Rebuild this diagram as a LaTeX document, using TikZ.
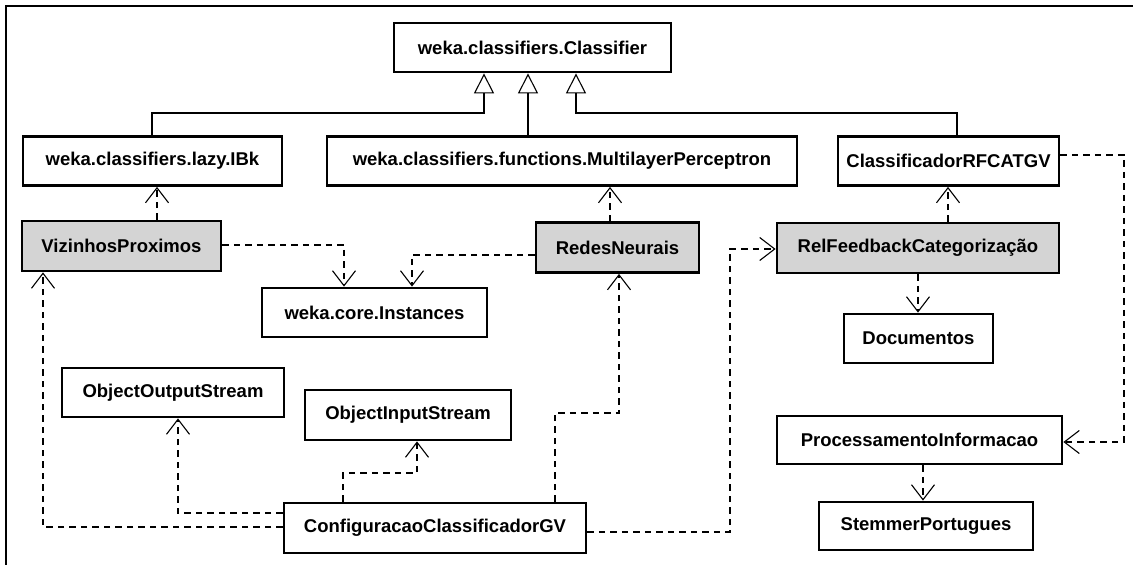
\documentclass[tikz,border=0pt]{standalone}
\usepackage{fontspec}
\setmainfont{Liberation Sans}
\usetikzlibrary{arrows.meta}
\definecolor{boxgray}{HTML}{D4D4D4}
\begin{document}
\begin{tikzpicture}[x=1pt,y=-1pt,
  umlbox/.style={draw=black, line width=2.8pt, fill=white, inner sep=0pt,
    font=\fontsize{18.5}{20}\selectfont\bfseries},
  shadedbox/.style={umlbox, fill=boxgray},
  dep/.style={line width=1.1pt, dash pattern=on 6.5pt off 5pt,
    -{Straight Barb[length=15pt,width=23pt,line width=1.1pt]}},
  gen/.style={line width=1.1pt,
    -{Triangle[open,length=20pt,width=20pt,fill=white,line width=1.1pt]}}
]
\useasboundingbox (0,0) rectangle (1133,565);
\fill[white] (0,0) rectangle (1133,565);
\draw[line width=2.5pt] (6,565) -- (6,6) -- (1133,6);

% nodes
\node[umlbox, minimum width=277pt, minimum height=49pt] (cls) at (532.5,47.5) {weka.classifiers.Classifier};
\node[umlbox, minimum width=259pt, minimum height=49pt] (ibk) at (152.5,161) {weka.classifiers.lazy.IBk};
\node[umlbox, minimum width=470pt, minimum height=49pt] (mlp) at (562,161) {weka.classifiers.functions.MultilayerPerceptron};
\node[umlbox, minimum width=221pt, minimum height=49pt] (rfc) at (948.5,161) {ClassificadorRFCATGV};
\node[shadedbox, minimum width=199pt, minimum height=50pt] (viz) at (121.5,246) {VizinhosProximos};
\node[shadedbox, minimum width=163pt, minimum height=50pt] (red) at (617.5,247.5) {RedesNeurais};
\node[shadedbox, minimum width=282pt, minimum height=50pt] (rel) at (918,248) {RelFeedbackCategorização};
\node[umlbox, minimum width=225pt, minimum height=49pt] (ins) at (374.5,312.5) {weka.core.Instances};
\node[umlbox, minimum width=149pt, minimum height=49pt] (doc) at (918.5,338.5) {Documentos};
\node[umlbox, minimum width=222pt, minimum height=49pt] (oos) at (173,392.5) {ObjectOutputStream};
\node[umlbox, minimum width=206pt, minimum height=50pt] (ois) at (408,415) {ObjectInputStream};
\node[umlbox, minimum width=285pt, minimum height=48pt] (pro) at (919.5,440) {ProcessamentoInformacao};
\node[umlbox, minimum width=302pt, minimum height=50pt] (cfg) at (435,528) {ConfiguracaoClassificadorGV};
\node[umlbox, minimum width=214pt, minimum height=48pt] (stm) at (926,526) {StemmerPortugues};

% generalizations
\draw[gen] (ibk.north -| 152,0) -- (152,113) -| (cls.south -| 484,0);
\draw[gen] (mlp.north -| 528,0) -- (cls.south -| 528,0);
\draw[gen] (rfc.north -| 957,0) -- (957,113) -| (cls.south -| 576,0);

% dependencies
\draw[dep] (viz.north -| 157,0) -- (ibk.south -| 157,0);
\draw[dep] (red.north -| 610,0) -- (mlp.south -| 610,0);
\draw[dep] (rel.north -| 948,0) -- (rfc.south -| 948,0);
\draw[dep] (viz.east |- 0,245) -| (ins.north -| 344,0);
\draw[dep] (red.west |- 0,255) -| (ins.north -| 412,0);
\draw[dep] (rel.south -| 918,0) -- (doc.north -| 918,0);
\draw[dep] (rfc.east |- 0,155) -- (1124,155) |- (pro.east |- 0,442);
\draw[dep] (pro.south -| 923,0) -- (stm.north -| 923,0);
\draw[dep] (cfg.west |- 0,513) -| (oos.south -| 178,0);
\draw[dep] (cfg.north -| 343,0) -- (343,473) -| (ois.south -| 417,0);
\draw[dep] (cfg.west |- 0,527) -| (viz.south -| 43,0);
\draw[dep] (cfg.north -| 555,0) -- (555,413) -| (red.south -| 619,0);
\draw[dep] (cfg.east |- 0,532) -- (730,532) |- (rel.west |- 0,249);
\end{tikzpicture}
\end{document}
